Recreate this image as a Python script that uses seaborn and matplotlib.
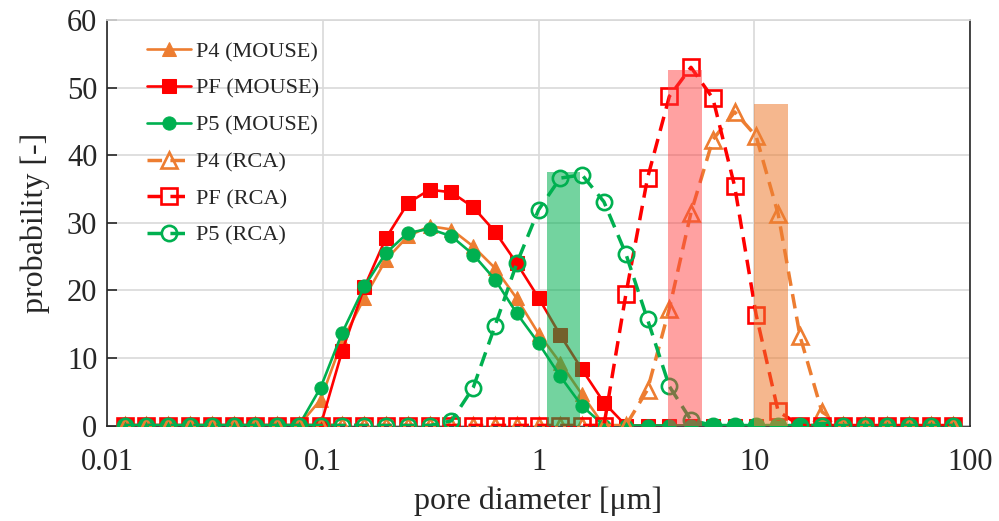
import numpy as np
import pandas as pd
import matplotlib
matplotlib.use("Agg")
import matplotlib.pyplot as plt
import seaborn as sns

# pore diameter bins [um]
pore_d = [0.0121, 0.0152, 0.0192, 0.0242, 0.0306, 0.0386, 0.0486, 0.0614, 0.0775, 0.0977,
          0.123, 0.156, 0.196, 0.248, 0.313, 0.395, 0.498, 0.628, 0.793, 1.00,
          1.26, 1.59, 2.01, 2.54, 3.20, 4.04, 5.09, 6.43, 8.11, 10.2,
          12.9, 16.3, 20.6, 25.9, 32.7, 41.3, 52.1, 65.8, 83.0]

p4_mouse = [0] * 9 + [3.8, 12.5, 18.9, 24.5, 28.0, 29.5, 29.0, 26.5, 23.3, 18.8, 13.6, 9.3, 4.6] + [0] * 17
pf_mouse = [0] * 10 + [11.0, 20.5, 27.7, 32.9, 34.9, 34.5, 32.3, 28.7, 24.0, 18.9, 13.4, 8.3, 3.4] + [0] * 16
p5_mouse = [0] * 9 + [5.6, 13.7, 20.6, 25.5, 28.5, 29.1, 28.0, 25.3, 21.6, 16.6, 12.2, 7.3, 2.9] + [0] * 17
p4_rca = [0] * 24 + [5.3, 17.3, 31.5, 42.3, 46.4, 42.8, 31.3, 13.2, 2.0] + [0] * 6
pf_rca = [0] * 23 + [19.4, 36.6, 48.7, 53.0, 48.4, 35.4, 16.4, 2.1] + [0] * 8
p5_rca = [0] * 15 + [0.7, 5.6, 14.7, 24.0, 31.9, 36.6, 37.1, 33.1, 25.4, 15.7, 5.8, 0.8] + [0] * 12

# shaded bands: left / right edge [um] and height
band_left = [1.09, 4.0, 10.0]
band_right = [1.56, 5.7, 14.4]
band_height = [37.5, 52.6, 47.5]

ORANGE = "#ED7D31"
RED = "#FF0000"
GREEN = "#00B050"
band_colors = ["#00B050", "#FF3B3B", "#ED7D31"]
band_alpha = [0.55, 0.48, 0.55]

sns.set_theme(style="white")
plt.rcParams["font.family"] = ["Liberation Serif", "DejaVu Serif"]

fig = plt.figure(figsize=(9.99, 5.21), dpi=100)
ax = fig.add_axes([0.1071, 0.1833, 0.8639, 0.7783])

solid = dict(linewidth=1.9, markersize=9.5)
dash = dict(linewidth=2.5, markersize=11, markerfacecolor="none", markeredgewidth=1.9,
            linestyle=(0, (4.2, 2.4)))

sns.lineplot(x=pore_d, y=p4_mouse, ax=ax, color=ORANGE, marker="^", markeredgecolor=ORANGE,
             label="P4 (MOUSE)", **solid)
sns.lineplot(x=pore_d, y=pf_mouse, ax=ax, color=RED, marker="s", markeredgecolor=RED,
             label="PF (MOUSE)", **solid)
sns.lineplot(x=pore_d, y=p5_mouse, ax=ax, color=GREEN, marker="o", markeredgecolor=GREEN,
             label="P5 (MOUSE)", **solid)
sns.lineplot(x=pore_d, y=p4_rca, ax=ax, color=ORANGE, marker="^", markeredgecolor=ORANGE,
             label="P4 (RCA)", **dash)
sns.lineplot(x=pore_d, y=pf_rca, ax=ax, color=RED, marker="s", markeredgecolor=RED,
             label="PF (RCA)", **dash)
sns.lineplot(x=pore_d, y=p5_rca, ax=ax, color=GREEN, marker="o", markeredgecolor=GREEN,
             label="P5 (RCA)", **dash)

for l, r, h, c, a in zip(band_left, band_right, band_height, band_colors, band_alpha):
    ax.bar(l, h, width=r - l, align="edge", color=c, alpha=a, linewidth=0, zorder=5)

ax.set_xscale("log")
ax.set_xlim(0.01, 100)
ax.set_ylim(0, 60)
ax.set_yticks(range(0, 61, 10))
ax.set_xticks([0.01, 0.1, 1, 10, 100])
ax.set_xticklabels(["0.01", "0.1", "1", "10", "100"])
ax.minorticks_off()
ax.grid(True, color="#D9D9D9", linewidth=1.2)
ax.set_axisbelow(True)

for side in ["left", "bottom", "right"]:
    ax.spines[side].set_color("#262626")
    ax.spines[side].set_linewidth(1.2)
ax.spines["top"].set_color("#D9D9D9")
ax.spines["bottom"].set_zorder(0.5)
ax.tick_params(axis="y", direction="in", length=7, width=1.2, color="#262626",
               labelsize=22, pad=7, left=True)
ax.tick_params(axis="x", direction="in", length=0, labelsize=22, pad=16)

ax.set_xlabel("pore diameter [\u03bcm]", fontsize=23, labelpad=7)
ax.set_ylabel("probability [-]", fontsize=23, labelpad=12)

leg = ax.legend(loc="upper left", bbox_to_anchor=(0.046, 0.947), frameon=False,
                fontsize=16, handlelength=2.0, handletextpad=0.2, labelspacing=0.73,
                borderpad=0, borderaxespad=0)

fig.savefig("out.png", dpi=100)
